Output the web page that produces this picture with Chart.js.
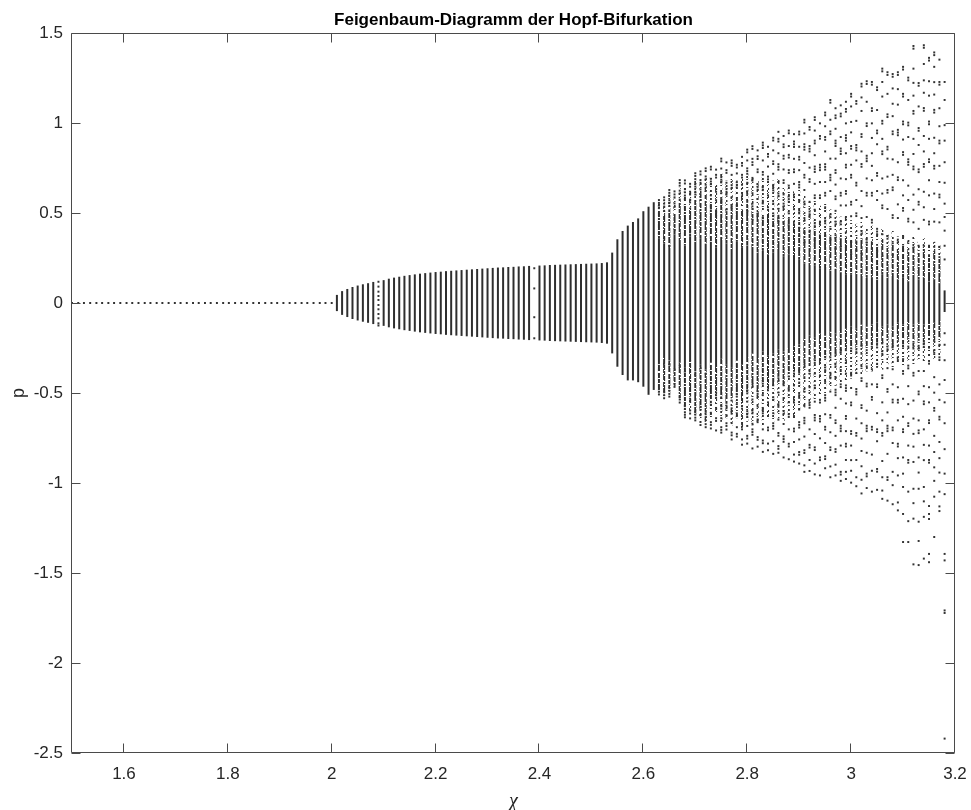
<!DOCTYPE html>
<html>
<head>
<meta charset="utf-8">
<script src="https://cdn.jsdelivr.net/npm/chart.js@4.4.1/dist/chart.umd.min.js"></script>
<style>
  html, body { margin: 0; padding: 0; background: #ffffff; }
  #wrap { width: 971px; height: 810px; }
</style>
</head>
<body>
<div id="wrap"><canvas id="chart" width="971" height="810"></canvas></div>
<script>
// ---- axis ticks ----
const xTicks = [1.6, 1.8, 2.0, 2.2, 2.4, 2.6, 2.8, 3.0, 3.2];
const xTickLabels = ['1.6', '1.8', '2', '2.2', '2.4', '2.6', '2.8', '3', '3.2'];
const yTicks = [-2.5, -2, -1.5, -1, -0.5, 0, 0.5, 1, 1.5];
const yTickLabels = ['-2.5', '-2', '-1.5', '-1', '-0.5', '0', '0.5', '1', '1.5'];

// ---- stable equilibrium, p = 0 ----
const chiRest = [1.500, 1.512, 1.523, 1.535, 1.547, 1.558, 1.570, 1.581, 1.593, 1.605, 1.616, 1.628,
  1.640, 1.651, 1.663, 1.674, 1.686, 1.698, 1.709, 1.721, 1.733, 1.744, 1.756, 1.767, 1.779, 1.791,
  1.802, 1.814, 1.826, 1.837, 1.849, 1.860, 1.872, 1.884, 1.895, 1.907, 1.919, 1.930, 1.942, 1.953,
  1.965, 1.977, 1.988, 2.000];
const pRest = [0, 0, 0, 0, 0, 0, 0, 0, 0, 0, 0, 0, 0, 0, 0, 0, 0, 0, 0, 0, 0, 0,
  0, 0, 0, 0, 0, 0, 0, 0, 0, 0, 0, 0, 0, 0, 0, 0, 0, 0, 0, 0, 0, 0];

// ---- limit cycle: p range swept per chi ----
const chiCycle = [2.01, 2.02, 2.03, 2.04, 2.05, 2.06, 2.07, 2.08, 2.09, 2.10, 2.11, 2.12, 2.13, 2.14,
  2.15, 2.16, 2.17, 2.18, 2.19, 2.20, 2.21, 2.22, 2.23, 2.24, 2.25, 2.26, 2.27, 2.28, 2.29, 2.30,
  2.31, 2.32, 2.33, 2.34, 2.35, 2.36, 2.37, 2.38, 2.39, 2.40, 2.41, 2.42, 2.43, 2.44, 2.45, 2.46,
  2.47, 2.48, 2.49, 2.50, 2.51, 2.52, 2.53, 2.54, 2.55, 2.56, 2.57, 2.58, 2.59, 2.60, 2.61, 2.62];
const cycleHi = [0.045, 0.066, 0.078, 0.089, 0.097, 0.104, 0.110, 0.117, null, 0.127, 0.135, 0.141,
  0.146, 0.151, 0.155, 0.159, 0.163, 0.166, 0.169, 0.172, 0.174, 0.177, 0.179, 0.181, 0.183, 0.185,
  0.187, 0.189, 0.191, 0.193, 0.195, 0.197, 0.198, 0.200, 0.201, 0.203, 0.204, 0.206, null, 0.208,
  0.209, 0.211, 0.212, 0.213, 0.214, 0.215, 0.216, 0.217, 0.218, 0.219, 0.220, 0.222, 0.226, 0.28,
  0.354, 0.40, 0.43, 0.45, 0.47, 0.51, 0.535, 0.56];
const cycleLo = [-0.045, -0.066, -0.078, -0.089, -0.097, -0.104, -0.110, -0.117, null, -0.127, -0.135, -0.141,
  -0.146, -0.151, -0.155, -0.159, -0.163, -0.166, -0.169, -0.172, -0.174, -0.177, -0.179, -0.181, -0.183, -0.185,
  -0.187, -0.189, -0.191, -0.193, -0.195, -0.197, -0.198, -0.200, -0.201, -0.203, -0.204, -0.206, null, -0.208,
  -0.209, -0.211, -0.212, -0.213, -0.214, -0.215, -0.216, -0.217, -0.218, -0.219, -0.220, -0.222, -0.226, -0.28,
  -0.354, -0.40, -0.43, -0.43, -0.44, -0.465, -0.51, -0.483];

// columns where only a few samples landed
const chiSparse = [2.09, 2.39];
const pSparse = [
  [0.118, 0.091, 0.063, 0.039, 0.017, -0.011, -0.035, -0.061, -0.085, -0.113, -0.125],
  [0.193, 0.081, -0.079, -0.196]
];

// ---- chaotic regime ----
const chiChaos = [2.63, 2.64, 2.65, 2.66, 2.67, 2.68, 2.69, 2.70, 2.71, 2.72, 2.73, 2.74, 2.75, 2.76,
  2.77, 2.78, 2.79, 2.80, 2.81, 2.82, 2.83, 2.84, 2.85, 2.86, 2.87, 2.88, 2.89, 2.90, 2.91, 2.92,
  2.93, 2.94, 2.95, 2.96, 2.97, 2.98, 2.99, 3.00, 3.01, 3.02, 3.03, 3.04, 3.05, 3.06, 3.07, 3.08,
  3.09, 3.10, 3.11, 3.12, 3.13, 3.14, 3.15, 3.16, 3.17, 3.18];
// dense core of each column
const coreHi = [0.36, 0.33, 0.30, 0.38, 0.35, 0.32, 0.37, 0.34, 0.36, 0.33, 0.34, 0.31, 0.35, 0.33,
  0.30, 0.34, 0.31, 0.32, 0.30, 0.28, 0.29, 0.27, 0.28, 0.30, 0.26, 0.27, 0.25, 0.24, 0.22, 0.20,
  0.21, 0.19, 0.20, 0.18, 0.19, 0.17, 0.16, 0.16, 0.15, 0.15, 0.14, 0.14, 0.13, 0.16, 0.14, 0.15,
  0.13, 0.14, 0.12, 0.15, 0.13, 0.14, 0.12, 0.13, 0.11, 0.07];
const coreLo = [-0.34, -0.30, -0.32, -0.35, -0.33, -0.36, -0.30, -0.38, -0.34, -0.37, -0.33, -0.35, -0.31, -0.34,
  -0.36, -0.32, -0.34, -0.30, -0.28, -0.30, -0.27, -0.29, -0.28, -0.26, -0.27, -0.25, -0.24, -0.23, -0.20, -0.18,
  -0.19, -0.17, -0.18, -0.16, -0.17, -0.15, -0.14, -0.13, -0.14, -0.12, -0.13, -0.12, -0.11, -0.13, -0.12, -0.13,
  -0.11, -0.12, -0.10, -0.12, -0.11, -0.12, -0.10, -0.11, -0.10, -0.05];
// outer edge of the broken band around the core
const bandTop = [0.50, 0.49, 0.52, 0.50, 0.58, 0.55, 0.53, 0.58, 0.56, 0.60, 0.55, 0.52, 0.58, 0.50,
  0.54, 0.56, 0.52, 0.55, 0.50, 0.52, 0.48, 0.50, 0.47, 0.49, 0.46, 0.47, 0.44, 0.45, 0.42, 0.40,
  0.41, 0.38, 0.40, 0.37, 0.38, 0.36, 0.37, 0.35, 0.34, 0.36, 0.33, 0.34, 0.32, 0.35, 0.31, 0.33,
  0.30, 0.32, 0.29, 0.31, 0.28, 0.30, 0.27, 0.29, 0.26, null];
const bandBottom = [-0.48, -0.50, -0.47, -0.45, -0.52, -0.57, -0.52, -0.60, -0.57, -0.61, -0.54, -0.50, -0.52, -0.56,
  -0.53, -0.50, -0.56, -0.48, -0.45, -0.49, -0.43, -0.47, -0.45, -0.41, -0.44, -0.40, -0.38, -0.37, -0.34, -0.35,
  -0.31, -0.32, -0.30, -0.29, -0.28, -0.27, -0.26, -0.25, -0.24, -0.24, -0.25, -0.23, -0.22, -0.23, -0.21, -0.23,
  -0.21, -0.23, -0.20, -0.22, -0.21, -0.22, -0.20, -0.21, -0.20, null];
// outer edge of the thin, scattered fringe beyond the band
const fringeTop = [0.55, 0.56, 0.60, 0.58, 0.64, 0.64, 0.62, 0.68, 0.68, 0.70, 0.70, 0.66, 0.72, 0.68,
  0.70, 0.68, 0.70, 0.72, 0.70, 0.68, 0.70, 0.66, 0.68, 0.70, 0.64, 0.66, 0.62, 0.64, 0.60, 0.56,
  0.58, 0.54, 0.55, 0.52, 0.50, 0.48, 0.48, 0.46, 0.44, 0.45, 0.42, 0.43, 0.40, 0.42, 0.38, 0.40,
  0.37, 0.38, 0.35, 0.37, 0.34, 0.36, 0.33, 0.34, 0.32, null];
const fringeBottom = [-0.50, -0.52, -0.50, -0.46, -0.54, -0.60, -0.60, -0.63, -0.64, -0.66, -0.64, -0.62, -0.66, -0.64,
  -0.68, -0.64, -0.70, -0.66, -0.68, -0.66, -0.68, -0.64, -0.66, -0.64, -0.66, -0.62, -0.64, -0.60, -0.58, -0.56,
  -0.54, -0.52, -0.50, -0.48, -0.46, -0.44, -0.44, -0.42, -0.40, -0.40, -0.38, -0.38, -0.36, -0.37, -0.34, -0.36,
  -0.33, -0.35, -0.32, -0.34, -0.32, -0.33, -0.30, -0.31, -0.30, null];
// isolated samples of each column
const chaosPoints = [
  [0.572, 0.556, 0.541, 0.527, 0.385, -0.372, -0.478, -0.493, -0.508],
  [0.587, 0.571, 0.552, 0.536, 0.512, 0.358, -0.338, -0.496, -0.512, -0.529],
  [0.628, 0.612, 0.597, 0.571, 0.556, 0.54, 0.318, -0.342, -0.472, -0.488, -0.505, -0.52],
  [0.62, 0.603, 0.587, 0.553, 0.534, 0.405, -0.37, -0.452, -0.466],
  [0.683, 0.667, 0.652, 0.624, 0.608, 0.383, -0.352, -0.521, -0.536, -0.553],
  [0.681, 0.664, 0.632, 0.615, 0.597, 0.575, -0.381, -0.572, -0.588, -0.607, -0.621, -0.635],
  [0.662, 0.646, 0.618, 0.603, 0.574, 0.559, 0.392, -0.322, -0.532, -0.548, -0.597, -0.614, -0.641],
  [0.721, 0.706, 0.688, 0.662, 0.647, 0.618, 0.603, -0.398, -0.604, -0.62, -0.637, -0.652],
  [0.731, 0.714, 0.683, 0.668, 0.631, 0.605, 0.589, 0.572, -0.363, -0.577, -0.594, -0.623, -0.661, -0.678],
  [0.748, 0.733, 0.703, 0.687, 0.657, 0.641, 0.622, -0.392, -0.618, -0.634, -0.651, -0.673, -0.69],
  [0.757, 0.742, 0.69, 0.675, 0.66, 0.598, 0.54, 0.525, -0.55, -0.565, -0.61, -0.662, -0.677, -0.697],
  [0.741, 0.712, 0.697, 0.633, 0.618, 0.571, 0.505, 0.49, -0.497, -0.512, -0.527, -0.583, -0.64, -0.655, -0.708],
  [0.802, 0.787, 0.747, 0.70, 0.685, 0.67, 0.61, 0.575, 0.56, -0.528, -0.572, -0.587, -0.64, -0.69, -0.705, -0.72],
  [0.781, 0.738, 0.723, 0.668, 0.632, 0.617, 0.602, 0.52, 0.505, -0.57, -0.585, -0.623, -0.668, -0.683, -0.703],
  [0.792, 0.777, 0.762, 0.712, 0.655, 0.64, 0.588, 0.545, 0.53, -0.542, -0.585, -0.6, -0.615, -0.667, -0.72, -0.735, -0.758],
  [0.768, 0.753, 0.72, 0.672, 0.657, 0.642, 0.583, 0.542, -0.505, -0.52, -0.562, -0.613, -0.628, -0.69, -0.727, -0.742],
  [0.812, 0.778, 0.763, 0.712, 0.697, 0.657, 0.608, 0.593, 0.578, 0.505, -0.572, -0.587, -0.628, -0.672, -0.687, -0.702, -0.758, -0.787],
  [0.852, 0.837, 0.792, 0.748, 0.733, 0.718, 0.668, 0.621, 0.606, 0.562, 0.51, -0.487, -0.502, -0.548, -0.601, -0.616, -0.631, -0.683, -0.738, -0.753, -0.781],
  [0.871, 0.856, 0.801, 0.782, 0.767, 0.695, 0.68, 0.61, 0.552, 0.537, 0.522, 0.463, -0.452, -0.467, -0.536, -0.598, -0.613, -0.671, -0.702, -0.717, -0.732, -0.808],
  [0.848, 0.815, 0.8, 0.742, 0.727, 0.66, 0.645, 0.63, 0.578, 0.497, 0.482, -0.49, -0.505, -0.52, -0.575, -0.647, -0.662, -0.745, -0.76, -0.798],
  [0.891, 0.876, 0.861, 0.792, 0.728, 0.713, 0.642, 0.627, 0.568, 0.553, 0.471, -0.433, -0.448, -0.512, -0.583, -0.598, -0.613, -0.702, -0.764, -0.779, -0.827],
  [0.868, 0.828, 0.813, 0.758, 0.702, 0.687, 0.672, 0.598, 0.532, 0.517, 0.462, -0.47, -0.485, -0.552, -0.567, -0.628, -0.692, -0.707, -0.781, -0.818],
  [0.918, 0.903, 0.848, 0.787, 0.772, 0.718, 0.656, 0.641, 0.626, 0.552, 0.498, 0.483, 0.428, -0.457, -0.523, -0.538, -0.612, -0.668, -0.683, -0.698, -0.768, -0.838],
  [0.951, 0.912, 0.897, 0.832, 0.771, 0.756, 0.741, 0.672, 0.608, 0.593, 0.523, 0.471, 0.456, -0.418, -0.433, -0.497, -0.562, -0.577, -0.648, -0.722, -0.737, -0.795, -0.81, -0.832],
  [0.928, 0.881, 0.866, 0.818, 0.802, 0.742, 0.682, 0.667, 0.603, 0.552, 0.537, 0.522, 0.448, -0.442, -0.457, -0.528, -0.601, -0.616, -0.672, -0.741, -0.756, -0.771, -0.858],
  [0.958, 0.943, 0.872, 0.823, 0.808, 0.738, 0.723, 0.652, 0.592, 0.577, 0.562, 0.498, 0.432, -0.408, -0.472, -0.487, -0.552, -0.618, -0.633, -0.702, -0.782, -0.797, -0.868],
  [0.938, 0.897, 0.882, 0.867, 0.801, 0.742, 0.727, 0.662, 0.603, 0.588, 0.521, 0.452, 0.437, -0.392, -0.407, -0.458, -0.523, -0.538, -0.553, -0.628, -0.698, -0.713, -0.772, -0.842, -0.881],
  [0.952, 0.937, 0.868, 0.812, 0.797, 0.738, 0.672, 0.657, 0.642, 0.572, 0.513, 0.498, 0.418, 0.372, -0.372, -0.387, -0.442, -0.512, -0.527, -0.592, -0.662, -0.677, -0.692, -0.758, -0.828, -0.843, -0.892],
  [1.018, 1.003, 0.942, 0.882, 0.867, 0.852, 0.778, 0.712, 0.697, 0.628, 0.563, 0.548, 0.472, 0.457, 0.391, 0.338, -0.341, -0.356, -0.412, -0.478, -0.493, -0.572, -0.638, -0.653, -0.668, -0.742, -0.818, -0.833, -0.902, -0.938],
  [0.978, 0.963, 0.872, 0.857, 0.842, 0.752, 0.688, 0.673, 0.562, 0.508, 0.493, 0.478, 0.402, -0.378, -0.393, -0.468, -0.552, -0.567, -0.582, -0.702, -0.788, -0.803, -0.872, -0.933],
  [1.032, 1.017, 0.958, 0.902, 0.887, 0.821, 0.758, 0.743, 0.728, 0.662, 0.598, 0.583, 0.518, 0.442, 0.427, 0.352, -0.318, -0.333, -0.392, -0.458, -0.473, -0.548, -0.622, -0.637, -0.652, -0.728, -0.802, -0.817, -0.892, -0.952],
  [0.998, 0.928, 0.913, 0.768, 0.753, 0.738, 0.672, 0.598, 0.583, 0.452, 0.437, 0.342, -0.318, -0.333, -0.402, -0.538, -0.553, -0.628, -0.643, -0.658, -0.752, -0.858, -0.873, -0.958],
  [1.058, 1.043, 0.982, 0.922, 0.907, 0.842, 0.771, 0.756, 0.741, 0.672, 0.612, 0.597, 0.532, 0.458, 0.443, 0.372, -0.302, -0.358, -0.373, -0.438, -0.512, -0.527, -0.542, -0.618, -0.688, -0.703, -0.778, -0.852, -0.867, -0.918],
  [1.128, 1.113, 1.018, 0.953, 0.938, 0.802, 0.712, 0.697, 0.682, 0.622, 0.492, 0.477, 0.412, 0.352, -0.302, -0.388, -0.403, -0.418, -0.492, -0.622, -0.637, -0.718, -0.802, -0.817, -0.908, -0.968],
  [1.082, 1.042, 1.027, 0.968, 0.902, 0.887, 0.872, 0.802, 0.738, 0.723, 0.658, 0.592, 0.577, 0.512, 0.452, 0.437, 0.362, 0.302, -0.282, -0.337, -0.352, -0.412, -0.482, -0.497, -0.512, -0.582, -0.652, -0.667, -0.738, -0.812, -0.827, -0.898, -0.958],
  [1.098, 1.052, 1.037, 0.922, 0.858, 0.843, 0.828, 0.692, 0.612, 0.597, 0.542, 0.452, 0.437, 0.312, -0.262, -0.277, -0.372, -0.452, -0.467, -0.532, -0.682, -0.697, -0.712, -0.792, -0.938, -0.953, -0.988],
  [1.118, 1.078, 1.063, 0.998, 0.932, 0.917, 0.902, 0.832, 0.768, 0.753, 0.688, 0.622, 0.607, 0.542, 0.478, 0.463, 0.392, 0.312, -0.262, -0.318, -0.333, -0.392, -0.458, -0.473, -0.488, -0.558, -0.628, -0.643, -0.712, -0.782, -0.797, -0.872, -0.938, -0.978],
  [1.162, 1.147, 1.092, 1.006, 0.948, 0.872, 0.857, 0.768, 0.712, 0.697, 0.562, 0.547, 0.482, 0.338, 0.272, -0.252, -0.267, -0.388, -0.403, -0.472, -0.553, -0.568, -0.712, -0.727, -0.792, -0.873, -0.932, -0.998],
  [1.122, 1.107, 1.012, 0.878, 0.863, 0.848, 0.792, 0.668, 0.653, 0.572, 0.498, 0.483, 0.342, 0.292, -0.258, -0.273, -0.388, -0.478, -0.493, -0.508, -0.642, -0.722, -0.737, -0.872, -0.968, -1.018],
  [1.218, 1.203, 1.142, 1.067, 0.938, 0.923, 0.842, 0.772, 0.757, 0.622, 0.538, 0.472, 0.398, 0.383, 0.272, -0.238, -0.282, -0.352, -0.418, -0.433, -0.568, -0.583, -0.668, -0.753, -0.822, -0.907, -0.982, -1.058],
  [1.232, 1.217, 1.118, 0.998, 0.983, 0.818, 0.803, 0.788, 0.692, 0.612, 0.597, 0.478, 0.352, 0.337, -0.262, -0.352, -0.448, -0.463, -0.598, -0.682, -0.697, -0.712, -0.832, -0.948, -0.963, -1.028],
  [1.228, 1.213, 1.082, 1.067, 0.998, 0.917, 0.832, 0.762, 0.682, 0.612, 0.597, 0.462, 0.447, 0.302, -0.228, -0.243, -0.368, -0.452, -0.522, -0.537, -0.688, -0.703, -0.842, -0.932, -1.048],
  [1.198, 1.183, 1.072, 0.958, 0.943, 0.882, 0.722, 0.707, 0.622, 0.572, 0.412, 0.397, 0.382, 0.288, -0.232, -0.247, -0.338, -0.452, -0.467, -0.612, -0.702, -0.717, -0.768, -0.922, -0.937, -1.038],
  [1.302, 1.287, 1.228, 1.147, 1.012, 0.997, 0.912, 0.842, 0.827, 0.692, 0.608, 0.542, 0.527, 0.382, 0.262, -0.222, -0.268, -0.283, -0.402, -0.417, -0.552, -0.652, -0.722, -0.737, -0.878, -0.968, -1.042, -1.088],
  [1.282, 1.267, 1.162, 1.048, 1.033, 0.868, 0.853, 0.802, 0.702, 0.628, 0.613, 0.522, 0.372, 0.357, -0.242, -0.257, -0.362, -0.478, -0.493, -0.608, -0.682, -0.697, -0.712, -0.838, -0.968, -0.983, -1.098],
  [1.272, 1.257, 1.192, 1.107, 1.038, 0.953, 0.938, 0.798, 0.712, 0.642, 0.627, 0.488, 0.473, 0.332, 0.268, -0.232, -0.247, -0.368, -0.452, -0.537, -0.552, -0.692, -0.707, -0.778, -0.938, -1.012, -1.118],
  [1.282, 1.267, 1.188, 1.102, 0.962, 0.947, 0.932, 0.782, 0.698, 0.683, 0.548, 0.472, 0.352, 0.337, -0.238, -0.302, -0.317, -0.468, -0.538, -0.553, -0.652, -0.782, -0.797, -0.862, -0.958, -1.108, -1.152],
  [1.312, 1.297, 1.162, 1.147, 1.008, 0.993, 0.908, 0.838, 0.823, 0.682, 0.598, 0.528, 0.513, 0.372, 0.298, -0.242, -0.312, -0.378, -0.393, -0.532, -0.632, -0.702, -0.717, -0.858, -0.948, -1.022, -1.172, -1.328],
  [1.252, 1.237, 1.128, 1.002, 0.987, 0.922, 0.798, 0.783, 0.768, 0.652, 0.572, 0.468, 0.453, 0.342, -0.242, -0.348, -0.363, -0.462, -0.562, -0.668, -0.683, -0.792, -0.872, -0.887, -1.048, -1.212, -1.328],
  [1.428, 1.413, 1.302, 1.223, 1.152, 1.067, 1.052, 0.912, 0.828, 0.758, 0.743, 0.602, 0.518, 0.448, 0.308, -0.238, -0.253, -0.388, -0.403, -0.542, -0.642, -0.727, -0.798, -0.883, -1.032, -1.112, -1.198, -1.452],
  [1.222, 1.207, 1.092, 0.972, 0.957, 0.878, 0.742, 0.727, 0.632, 0.562, 0.547, 0.412, 0.318, -0.238, -0.253, -0.378, -0.492, -0.507, -0.652, -0.708, -0.723, -0.858, -0.942, -1.032, -1.215, -1.322, -1.456],
  [1.432, 1.418, 1.328, 1.237, 1.168, 1.083, 1.068, 0.928, 0.842, 0.772, 0.757, 0.618, 0.532, 0.462, 0.318, -0.228, -0.243, -0.378, -0.462, -0.547, -0.562, -0.702, -0.788, -0.873, -1.022, -1.102, -1.188, -1.42],
  [1.362, 1.347, 1.232, 1.152, 1.008, 0.993, 0.912, 0.798, 0.783, 0.682, 0.598, 0.452, 0.437, 0.318, -0.248, -0.322, -0.337, -0.468, -0.552, -0.652, -0.667, -0.792, -0.872, -0.887, -1.128, -1.172, -1.2, -1.394, -1.44],
  [1.392, 1.377, 1.312, 1.227, 1.158, 1.073, 1.058, 0.918, 0.832, 0.762, 0.747, 0.608, 0.522, 0.452, 0.312, -0.212, -0.262, -0.277, -0.412, -0.498, -0.583, -0.598, -0.738, -0.828, -0.913, -0.988, -1.076, -1.3],
  [1.352, 1.228, 1.213, 1.082, 0.982, 0.902, 0.887, 0.762, 0.672, 0.602, 0.587, 0.448, 0.312, -0.232, -0.302, -0.317, -0.452, -0.538, -0.632, -0.647, -0.772, -0.862, -0.942, -1.048, -1.13, -1.156],
  [1.228, 1.128, 0.988, 0.902, 0.782, 0.668, 0.552, 0.478, 0.402, 0.318, 0.242, -0.168, -0.232, -0.318, -0.428, -0.552, -0.668, -0.812, -0.948, -1.062, -1.394, -1.43, -1.708, -1.722, -2.42]
];

// ---- styling ----
const INK = '#2e2e2e';
const canvas = document.getElementById('chart');

// Broken-column fill: dark runs separated by gaps, each pixel pair phase-shifted
// so neighbouring columns do not line up.
function dashFill(code, colour) {
  const w = 46, h = code.length;
  const tile = document.createElement('canvas');
  tile.width = w; tile.height = h;
  const g = tile.getContext('2d');
  g.fillStyle = colour;
  for (let x = 0; x < w; x++) {
    const shift = (Math.floor(x / 2) * 17) % h;
    for (let y = 0; y < h; y++) {
      if (code[(y + shift) % h] === '1') g.fillRect(x, y, 1, 1);
    }
  }
  return canvas.getContext('2d').createPattern(tile, 'repeat');
}
const BAND = dashFill('1111101111011111100111110111101111101101111', INK);
const FRINGE = dashFill('1100100011000101100000110010000110100011001000', '#333333');

const dotStyle = { type: 'scatter', pointStyle: 'rect', pointRadius: 1.4, pointHoverRadius: 0,
  pointBorderWidth: 0, backgroundColor: '#333333', borderColor: '#333333', showLine: false };
const barStyle = { type: 'bar', barThickness: 2, grouped: false, backgroundColor: INK,
  borderWidth: 0, borderSkipped: false, inflateAmount: 0 };

// ---- build datasets ----
const restData = chiRest.map((c, i) => ({ x: c, y: pRest[i] }));
const cycleData = [];
chiCycle.forEach((c, i) => {
  if (cycleHi[i] !== null) cycleData.push({ x: c, y: [cycleLo[i], cycleHi[i]] });
});
const sparseData = [];
chiSparse.forEach((c, i) => pSparse[i].forEach(p => sparseData.push({ x: c, y: p })));
const coreData = chiChaos.map((c, i) => ({ x: c, y: [coreLo[i], coreHi[i]] }));
const upData = [], downData = [], fringeUp = [], fringeDown = [], scatterData = [];
chiChaos.forEach((c, i) => {
  if (bandTop[i] !== null) upData.push({ x: c, y: [coreHi[i], bandTop[i]] });
  if (bandBottom[i] !== null) downData.push({ x: c, y: [bandBottom[i], coreLo[i]] });
  if (fringeTop[i] !== null) fringeUp.push({ x: c, y: [bandTop[i], fringeTop[i]] });
  if (fringeBottom[i] !== null) fringeDown.push({ x: c, y: [fringeBottom[i], bandBottom[i]] });
  (chaosPoints[i] || []).forEach(p => scatterData.push({ x: c, y: p }));
});

// ---- frame with inward ticks on all four sides ----
const framePlugin = {
  id: 'frame',
  afterDatasetsDraw(chart) {
    const { ctx, chartArea: a, scales: { x, y } } = chart;
    const L = Math.round(a.left) - 0.5, R = Math.round(a.right) - 0.5;
    const T = Math.round(a.top) + 0.5, B = Math.round(a.bottom) - 0.5;
    const len = 9;
    ctx.save();
    ctx.strokeStyle = '#4a4a4a';
    ctx.lineWidth = 1;
    ctx.beginPath();
    ctx.rect(L, T, R - L, B - T);
    xTicks.forEach(v => {
      const px = Math.round(x.getPixelForValue(v)) - 0.5;
      ctx.moveTo(px, B); ctx.lineTo(px, B - len);
      ctx.moveTo(px, T); ctx.lineTo(px, T + len);
    });
    yTicks.forEach(v => {
      const py = Math.round(y.getPixelForValue(v)) + 0.5;
      ctx.moveTo(L, py); ctx.lineTo(L + len, py);
      ctx.moveTo(R, py); ctx.lineTo(R - len, py);
    });
    ctx.stroke();
    ctx.restore();
  }
};

const SANS = "'Liberation Sans', Arial, Helvetica, sans-serif";

new Chart(canvas, {
  type: 'scatter',
  data: {
    datasets: [
      Object.assign({ data: fringeUp, order: 7 }, barStyle, { backgroundColor: FRINGE }),
      Object.assign({ data: fringeDown, order: 7 }, barStyle, { backgroundColor: FRINGE }),
      Object.assign({ data: upData, order: 6 }, barStyle, { backgroundColor: BAND }),
      Object.assign({ data: downData, order: 6 }, barStyle, { backgroundColor: BAND }),
      Object.assign({ data: coreData, order: 5 }, barStyle),
      Object.assign({ data: cycleData, order: 3 }, barStyle),
      Object.assign({ data: restData, order: 1 }, dotStyle),
      Object.assign({ data: sparseData, order: 1 }, dotStyle),
      Object.assign({ data: scatterData, order: 1 }, dotStyle)
    ]
  },
  options: {
    responsive: false,
    devicePixelRatio: 1,
    animation: false,
    events: [],
    layout: { padding: { left: 0, right: 16, top: 0, bottom: 0 } },
    plugins: {
      legend: { display: false },
      tooltip: { enabled: false },
      title: {
        display: true,
        fullSize: false,
        text: 'Feigenbaum-Diagramm der Hopf-Bifurkation',
        color: '#000000',
        font: { family: SANS, size: 17, weight: 'bold', lineHeight: 1.2 },
        padding: { top: 10, bottom: 2.6 }
      }
    },
    scales: {
      x: {
        type: 'linear', min: 1.5, max: 3.2, offset: false,
        afterBuildTicks: s => { s.ticks = xTicks.map(v => ({ value: v })); },
        afterFit: s => { s.height = 57; s.paddingLeft = 0; s.paddingRight = 0; },
        grid: { display: false, drawTicks: false },
        border: { display: false },
        ticks: {
          autoSkip: false, maxRotation: 0, padding: 11, color: '#262626',
          font: { family: SANS, size: 17 },
          callback: (v, i) => xTickLabels[i]
        },
        title: {
          display: true, text: 'χ', color: '#262626',
          font: { family: "'Liberation Serif', 'DejaVu Serif', serif", size: 20, style: 'italic', lineHeight: 0.8 },
          padding: { top: 0, bottom: 0 }
        }
      },
      y: {
        type: 'linear', min: -2.5, max: 1.5,
        afterBuildTicks: s => { s.ticks = yTicks.map(v => ({ value: v })); },
        afterFit: s => { s.width = 72; s.paddingTop = 0; s.paddingBottom = 0; },
        grid: { display: false, drawTicks: false },
        border: { display: false },
        ticks: {
          autoSkip: false, padding: 9, color: '#262626',
          font: { family: SANS, size: 17 },
          callback: (v, i) => yTickLabels[i]
        },
        title: {
          display: true, text: 'p', color: '#262626',
          font: { family: SANS, size: 18, lineHeight: 1.2 },
          padding: { top: 8, bottom: 0 }
        }
      }
    }
  },
  plugins: [framePlugin]
});
</script>
</body>
</html>
